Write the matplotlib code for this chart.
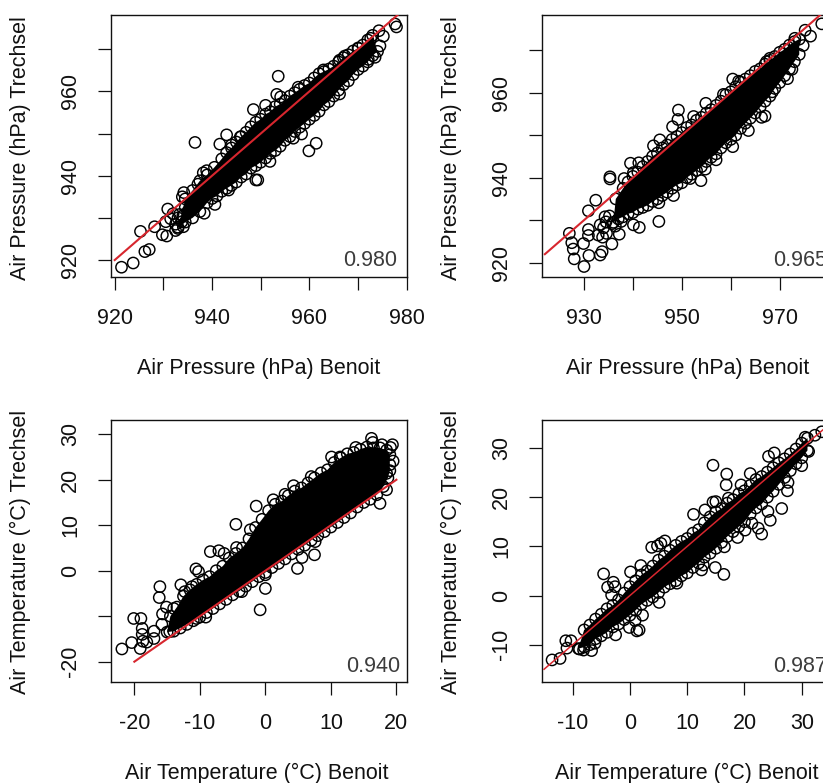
import matplotlib
matplotlib.use('Agg')
import matplotlib.pyplot as plt

plt.rcParams['font.family'] = ['Liberation Sans', 'DejaVu Sans']

W, H = 823, 783
RED = '#d7262e'
DARK = '#111111'

# Panel 1: air pressure, first pair
p1_out = [(921.4, 918.3), (923.8, 919.3), (925.3, 926.8), (926.2, 922.0), (927.1, 922.5), (928.2, 927.9),
          (929.8, 926.0), (930.7, 925.7), (930.9, 932.1), (930.5, 929.1), (932.5, 927.0), (933.8, 929.1),
          (934.1, 927.9), (934.2, 936.0), (933.9, 935.0), (936.5, 947.9), (937.1, 938.0), (938.2, 940.7),
          (938.9, 941.2), (938.4, 931.1), (940.6, 933.2), (941.6, 947.5), (943.0, 949.7), (944.0, 947.3),
          (943.4, 936.6), (945.8, 949.2), (948.5, 955.7), (951.0, 956.7), (949.0, 939.0), (949.4, 939.0),
          (951.9, 943.4), (953.6, 963.6), (953.3, 959.3), (954.1, 958.7), (956.7, 948.9), (958.4, 949.9),
          (961.4, 947.7), (959.9, 945.9), (957.7, 961.0), (962.9, 965.1), (966.2, 959.4), (966.2, 967.4),
          (967.3, 968.4), (970.1, 970.2), (973.5, 968.1), (972.1, 967.6), (974.5, 970.8), (972.6, 972.6),
          (974.3, 974.4), (975.2, 973.1), (977.6, 976.0), (977.9, 975.3),
          (932.5, 928.5), (933, 930), (934, 930.5), (931.5, 929.8), (932, 931), (933.3, 930.8),
          (935, 931.5), (934.5, 932.5), (933, 927.8)]
p1_top = [(934.5, 934.5), (936, 936.5), (937.5, 938.8), (939, 940.2), (940.5, 942.0), (942, 944.0), (943, 945.5),
          (944, 946.6), (945, 948), (946, 949.3), (947, 950.3), (948, 951.6), (949, 952.7), (950, 953.4),
          (951, 954.6), (952, 955.2), (953, 956.4), (954, 957.0), (955, 957.8), (956, 958.9), (957, 959.7),
          (958, 960.5), (959, 961.4), (960, 962), (961, 963.2), (962, 964.2), (963, 964.7), (964, 965.3),
          (965, 966), (966, 967), (967, 968), (968, 968.7), (969, 969.6), (970, 970.3), (971, 971),
          (972, 972.2), (973, 973.3)]
p1_low = [(933, 927.5), (934.5, 929), (936, 930), (937.5, 931.5), (939, 933.6), (940, 934.6), (941, 935.2),
          (942, 936.3), (943, 937), (944, 937.7), (945, 938.5), (946, 939.7), (947, 940.4), (948, 941.8),
          (949, 942.4), (950, 943.2), (951, 944.2), (952, 945.3), (953, 946), (954, 947), (955, 948.4),
          (956, 949.3), (957, 950.5), (958, 951.5), (959, 952.4), (960, 953.4), (961, 954.3), (962, 955.3),
          (963, 956.8), (964, 957.6), (965, 958.9), (966, 960.3), (967, 961.6), (968, 962.5), (969, 964),
          (970, 965.2), (971, 966), (972, 967), (973, 968.5), (974, 969.5)]

# Panel 2: air pressure, second pair
p2_out = [(927.0, 926.9), (927.5, 924.7), (927.8, 923.2), (928.0, 920.9), (930, 919.1), (929.9, 924.5),
          (931, 921.7), (930.9, 932.2), (932.4, 934.7), (930.9, 927.8), (930.9, 926.4), (933.3, 921.8),
          (933.7, 922.6), (932.9, 926.5), (933.8, 926), (935.7, 924.4), (934.6, 926.9), (937.2, 926.7),
          (933.3, 928.9), (934.3, 930.8), (935.3, 940.2), (935.3, 939.7), (938.2, 939.8), (940.1, 928.9),
          (941.3, 928.3), (945.3, 929.7), (939.5, 943.4), (941.2, 943.5), (940.1, 941.2), (948.3, 935.8),
          (945.3, 934.1), (953.9, 939.3), (951.7, 939.8), (954.8, 942), (957, 944.2), (944.2, 947.5),
          (945.5, 948.9), (948.1, 952), (949.2, 953.7), (949.3, 955.9), (952.4, 954.4), (954.9, 957.5),
          (958.5, 959.6), (960.4, 963.2), (961.6, 962.7), (960.4, 947.3), (963.6, 951.1), (966.3, 954.2),
          (967, 954.5), (968.5, 960.2), (971.6, 963.3), (972.5, 965.5), (968, 968.1), (967.3, 967.3),
          (973.1, 972.8), (975.2, 974.7), (976.3, 973.3), (974.8, 971.1), (978.6, 976.2),
          (934.5, 929.6), (935.2, 931), (935.8, 929.2), (936.4, 928.6), (934, 928.2), (937.6, 929.7)]
p2_top = [(936.5, 935), (938, 937.5), (939, 939), (940, 940.3), (941, 941.3), (942, 942.6), (943, 943.8),
          (944, 945), (945, 945.8), (946, 947), (947, 947.7), (948, 949), (949, 949.7), (950, 950.6),
          (951, 951.8), (952, 952.4), (953, 953.5), (954, 954.2), (955, 955.2), (956, 956), (957, 957),
          (958, 958), (959, 959.5), (960, 960.2), (961, 961.4), (962, 962.5), (963, 963.2), (964, 964),
          (965, 965), (966, 965.6), (967, 966.7), (968, 967.6), (969, 968.5), (970, 969.5), (971, 970.2),
          (972, 971.2), (973, 972), (974, 972.6)]
p2_low = [(936, 929.5), (937, 930.3), (938, 930.8), (939, 931.5), (940, 931.8), (941, 932.6), (942, 933),
          (943, 933.5), (944, 934.4), (945, 935), (946, 935.8), (947, 936.6), (948, 937.5), (949, 938.3),
          (950, 938.8), (951, 940), (952, 940.8), (953, 941.7), (954, 942.6), (955, 943.8), (956, 944.8),
          (957, 945.6), (958, 947), (959, 948.2), (960, 949), (961, 950), (962, 951.6), (963, 952.8),
          (964, 954), (965, 955.2), (966, 956.6), (967, 958), (968, 959.2), (969, 961), (970, 962.4),
          (971, 964), (972, 965.6), (973, 967.3), (974, 969)]

# Panel 3: air temperature, first pair
p3_out = [(-21.9, -17.2), (-20.4, -15.8), (-20.1, -10.5), (-19, -10.5), (-19.1, -17.1), (-18.8, -12.7),
          (-18.8, -14), (-18.7, -15.5), (-18.1, -15.7), (-17, -13.3), (-17, -14.9), (-16.1, -3.5),
          (-16.2, -5.9), (-15.7, -9.5), (-15.1, -8.0), (-15.8, -11.8), (-14.6, -13.4), (-14, -8.3),
          (-12.9, -3.1), (-12.3, -4.6), (-11.2, -3.5), (-10.6, 0.4), (-10.2, -0.2), (-10.5, -10.5),
          (-9.1, -10.2), (-8.4, 4.2), (-7.1, 4.4), (-6.3, 3.8), (-4.5, 10.2), (-4.4, 5.1), (-3.6, -4.6),
          (-0.8, -8.6), (0, -3.9), (0, -0.9), (-1.4, 14.2), (-2.3, 9), (1.2, 15.6), (3, 16.8), (4.3, 18.7),
          (4.9, 0.5), (5.6, 2.9), (7.5, 3.5), (7.6, 6.4), (7, 20.7), (10.1, 25), (11.4, 25), (13.8, 27.1),
          (16.2, 29.1), (16.4, 28.2), (17.8, 27.7), (19.4, 27.7), (19.1, 27.1), (19.5, 24.1), (17.5, 14.8),
          (18.5, 17.8), (19, 23.3), (18.5, 21.4)]
p3_top = [(-14.5, -10), (-13.5, -8), (-12.5, -5.6), (-11.5, -4.2), (-10.5, -3), (-9.5, -2), (-8.5, -1.3),
          (-7.5, 0), (-6.5, 1), (-5.5, 2.8), (-4.5, 3.8), (-3.5, 5), (-2.5, 7), (-1.5, 9.5), (-0.5, 11.3),
          (0.5, 13.2), (1.5, 14.6), (2.5, 15.3), (3.5, 16.5), (4.5, 17.5), (5.5, 18.2), (6.5, 19.3), (7.5, 20.4),
          (8.5, 21.5), (9.5, 22.2), (10.5, 23.8), (11.5, 24.8), (12.5, 25.7), (13.5, 26), (14.5, 26.7),
          (15.5, 27.2), (16.5, 27), (17.5, 27), (18.5, 26.5), (19, 25.5)]
p3_low = [(-15, -13.5), (-14, -13.3), (-13, -12.6), (-12, -11.8), (-11, -11), (-10, -10.2), (-9, -9.2),
          (-8, -8.3), (-7, -7.3), (-6, -6.3), (-5, -5.3), (-4, -4.5), (-3, -3.4), (-2, -2.4), (-1, -1.3),
          (0, -0.4), (1, 0.7), (2, 1.6), (3, 2.6), (4, 3.7), (5, 4.7), (6, 5.6), (7, 6.7), (8, 7.7), (9, 8.6),
          (10, 9.6), (11, 10.6), (12, 11.7), (13, 12.7), (14, 14), (15, 15), (16, 15.7), (17, 16.7),
          (18, 18.5), (18.7, 20.4), (19, 22)]

# Panel 4: air temperature, second pair
p4_out = [(-13.6, -13.1), (-12.2, -12.8), (-11, -10.7), (-11.2, -9.2), (-10.3, -9.2), (-8.8, -10.9),
          (-8.1, -11.1), (-6.7, -11.2), (-6.1, -9.7), (-2.5, -8), (-0.1, -6.5), (1.2, -7.2), (1.6, -7),
          (0.9, -5.1), (2.2, -4), (5.1, -1.4), (-4.6, 4.4), (-3.9, 1.7), (-2.9, 2.7), (-2.6, 1.8), (-3.2, 0.1),
          (0.1, 4.8), (1.9, 6.1), (3.8, 9.8), (4.8, 10.1), (6.1, 11.1), (5.4, 10.6), (8.2, 2.5), (12.5, 5.2),
          (12.8, 6.2), (14.9, 5.7), (16.4, 4.3), (16.5, 9.9), (18.8, 11.8), (20.1, 13.3), (21.3, 14.7),
          (22.4, 13.7), (23, 12.5), (24.5, 15.3), (24.1, 17.1), (26.5, 17.7), (27.5, 21.3), (27.6, 23),
          (30, 26.4), (11.1, 16.5), (13.1, 17.4), (14.5, 19), (15, 19.1), (14.5, 26.5), (16.9, 24.7),
          (16.8, 22.5), (17.2, 19.8), (19.4, 22.5), (21, 24.8), (24.2, 28.3), (25.2, 29), (30.6, 32.2),
          (32.3, 32.6), (33.5, 33.3), (31.2, 29.3)]
p4_top = [(-8, -7), (-7, -6), (-6, -4.8), (-5, -3.8), (-4, -2.7), (-3, -2), (-2, -0.9), (-1, 0.5), (0, 1.8),
          (1, 3), (2, 4.2), (3, 5), (4, 6), (5, 7.2), (6, 8), (7, 9.2), (8, 10.2), (9, 11), (10, 11.6),
          (11, 12.7), (12, 13.4), (13, 14.8), (14, 16), (15, 17), (16, 17.7), (17, 18.8), (18, 19.5),
          (19, 20.7), (20, 21.3), (21, 22.4), (22, 23.6), (23, 24.2), (24, 25.1), (25, 26), (26, 27),
          (27, 27.8), (28, 28.8), (29, 29.8), (30, 31), (31, 32)]
p4_low = [(-9, -10.8), (-8, -10.5), (-7, -10), (-6, -8.8), (-5, -8.2), (-4, -7.5), (-3, -6.4), (-2, -5.8),
          (-1, -4.9), (0, -4), (1, -3), (2, -1.8), (3, -1), (4, -0.3), (5, 0.6), (6, 1.7), (7, 2.4), (8, 3),
          (9, 4), (10, 4.6), (11, 5.7), (12, 6.6), (13, 7.8), (14, 8.6), (15, 9.6), (16, 10.8), (17, 12),
          (18, 13), (19, 14), (20, 15), (21, 16.6), (22, 17.8), (23, 18.6), (24, 20), (25, 21.2), (26, 22.6),
          (27, 24), (28, 25.4), (29, 26.8), (30, 28), (31, 29.5)]

p1_line = [920, 980]
p2_line = [922, 985]
p3_line = [-20, 20]
p4_line = [-15, 38]

r_labels = ['0.980', '0.965', '0.940', '0.987']
xlabel_pressure = 'Air Pressure (hPa) Benoit'
ylabel_pressure = 'Air Pressure (hPa) Trechsel'
xlabel_temp = 'Air Temperature (°C) Benoit'
ylabel_temp = 'Air Temperature (°C) Trechsel'

FS = 15.5
fig = plt.figure(figsize=(W / 100, H / 100), dpi=100)


def panel(left, top, xlim, ylim, outliers, upper, lower, line, xticks, xlabels, yticks, ylabels, lw=1.5):
    ax = fig.add_axes([left / W, 1 - (top + 262) / H, 296.7 / W, 262 / H])
    # the middle of the cloud is solid black, so fill it between its edge points
    outline = upper + lower[::-1]
    ax.fill([p[0] for p in outline], [p[1] for p in outline], color='black', lw=0, zorder=2)
    points = outliers + upper + lower
    ax.scatter([p[0] for p in points], [p[1] for p in points], s=66, facecolors='none',
               edgecolors='black', linewidths=1.05, zorder=3)
    ax.plot(line, line, color=RED, lw=lw, zorder=4)
    ax.set_xlim(xlim)
    ax.set_ylim(ylim)
    ax.set_xticks(xticks)
    ax.set_xticklabels(xlabels)
    ax.set_yticks(yticks)
    ax.set_yticklabels(ylabels, rotation=90, va='center')
    ax.tick_params(length=9.4, width=0.9, color=DARK, labelsize=FS, labelcolor=DARK)
    ax.tick_params(axis='x', pad=13)
    ax.tick_params(axis='y', pad=12)
    for s in ax.spines.values():
        s.set_linewidth(1.0)
        s.set_color(DARK)
    return ax


panel(110.7, 14.7, (919.18, 980.14), (916.05, 978.2), p1_out, p1_top, p1_low, p1_line,
      [920, 930, 940, 950, 960, 970, 980], ['920', '', '940', '', '960', '', '980'],
      [920, 930, 940, 950, 960, 970], ['920', '', '940', '', '960', ''])
panel(541.7, 14.7, (921.35, 982.0), (916.7, 978.35), p2_out, p2_top, p2_low, p2_line,
      [930, 940, 950, 960, 970, 980], ['930', '', '950', '', '970', ''],
      [920, 930, 940, 950, 960, 970], ['920', '', '940', '', '960', ''])
panel(110.7, 419.7, (-23.61, 21.68), (-24.4, 33.2), p3_out, p3_top, p3_low, p3_line,
      [-20, -10, 0, 10, 20], ['-20', '-10', '0', '10', '20'],
      [-20, -10, 0, 10, 20, 30], ['-20', '', '0', '10', '20', '30'])
panel(541.7, 419.7, (-15.41, 36.4), (-17.53, 35.76), p4_out, p4_top, p4_low, p4_line,
      [-10, 0, 10, 20, 30], ['-10', '0', '10', '20', '30'],
      [-10, 0, 10, 20, 30], ['-10', '0', '10', '20', '30'], lw=1.1)


def put(x, y, s, **kw):
    fig.text(x / W, 1 - y / H, s, fontsize=FS, color=DARK, va='center', **kw)


put(258.7, 368, xlabel_pressure, ha='center')
put(687.7, 368, xlabel_pressure, ha='center')
put(257, 773, xlabel_temp, ha='center')
put(686.7, 773, xlabel_temp, ha='center')
put(20.7, 147.7, ylabel_pressure, ha='center', rotation=90)
put(451.7, 147.7, ylabel_pressure, ha='center', rotation=90)
put(20.7, 552, ylabel_temp, ha='center', rotation=90)
put(451.7, 552, ylabel_temp, ha='center', rotation=90)

fig.text(397 / W, 1 - 260 / H, r_labels[0], fontsize=FS, color='#3c3c3c', ha='right', va='center')
fig.text(772.7 / W, 1 - 260 / H, r_labels[1], fontsize=FS, color='#3c3c3c', ha='left', va='center')
fig.text(400 / W, 1 - 667 / H, r_labels[2], fontsize=FS, color='#3c3c3c', ha='right', va='center')
fig.text(772.7 / W, 1 - 667 / H, r_labels[3], fontsize=FS, color='#3c3c3c', ha='left', va='center')

fig.savefig('out.png', dpi=100)
